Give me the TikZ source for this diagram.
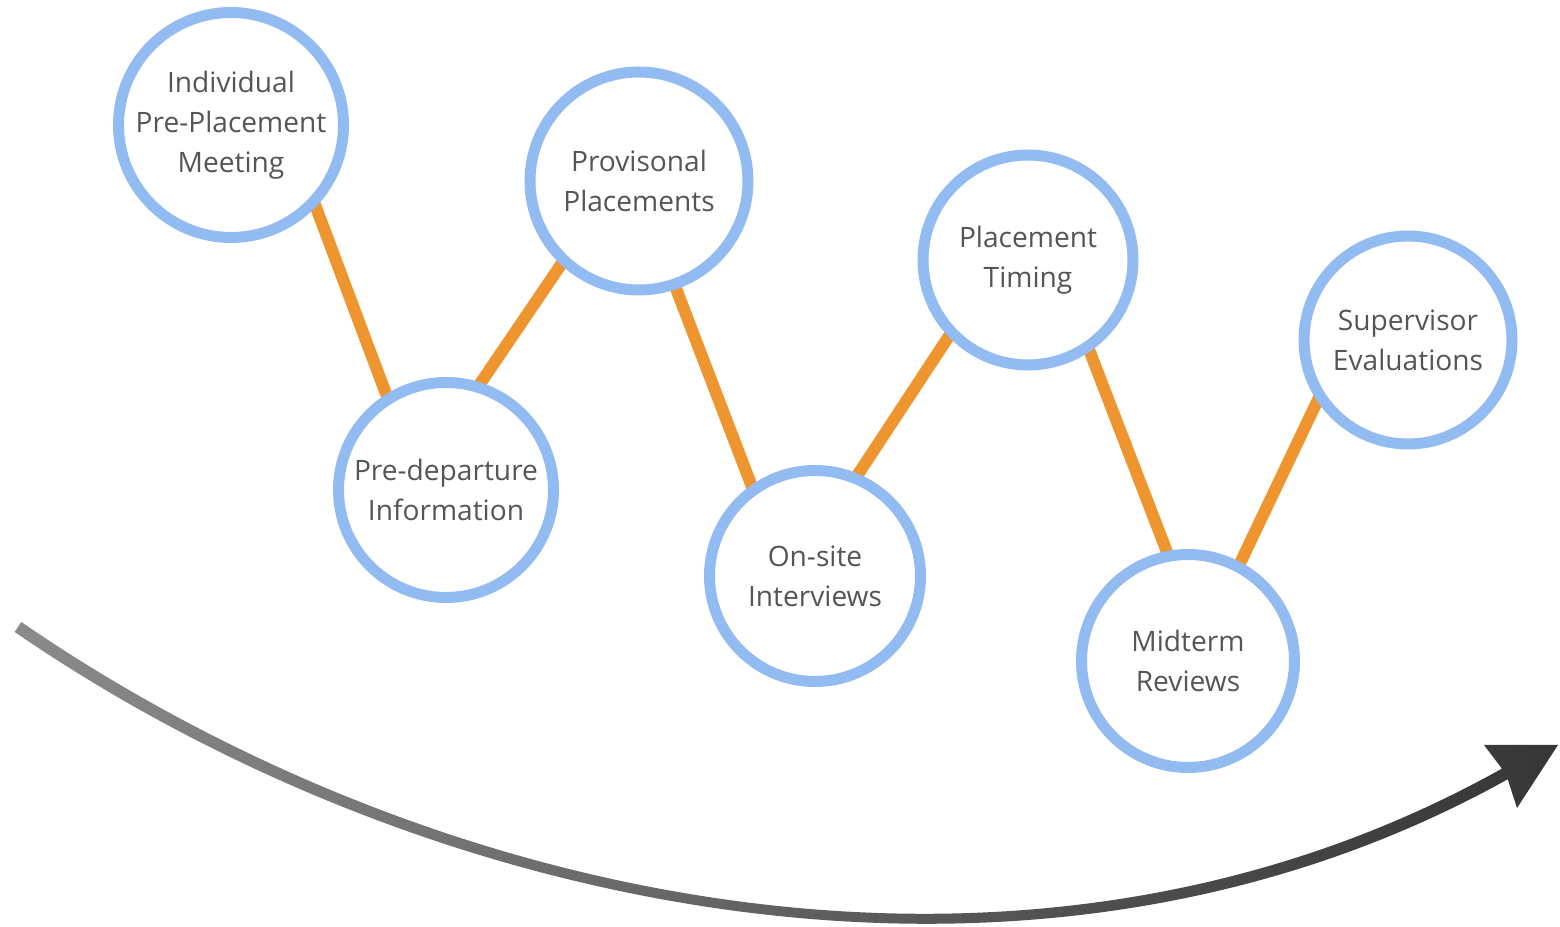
\documentclass[tikz,border=0pt]{standalone}
\usepackage{fontspec}
\setmainfont{Open Sans}
\usepackage{tikz}
\usepackage{xcolor}
\usetikzlibrary{calc,backgrounds}
\definecolor{ring}{HTML}{92BBF1}
\definecolor{link}{HTML}{EF9530}
\definecolor{label}{HTML}{555555}
\definecolor{shaftl}{HTML}{8A8A8A}
\definecolor{shaftd}{HTML}{363636}
\tikzset{
  stage/.style = {circle,draw=ring,line width=1.1mm,fill=white,text=label,
    align=center,inner sep=0pt,minimum size=#1,
    font=\fontsize{8}{11.4}\selectfont},
  conn/.style = {draw=link,line width=1.2mm,shorten <=-2mm,shorten >=-2mm}
}

\begin{document}
\begin{tikzpicture}[x=0.1mm,y=-0.1mm]
\useasboundingbox (0,0) rectangle (1560,927);

\node[stage=22.5mm] (meet) at (231,125) {Individual\\Pre-Placement\\Meeting};
\node[stage=21.5mm] (info) at (446,490) {Pre-departure\\Information};
\node[stage=21.8mm] (prov) at (639,181) {Provisonal\\Placements};
\node[stage=21.1mm] (site) at (815,576) {On-site\\Interviews};
\node[stage=21.0mm] (time) at (1028,260) {Placement\\Timing};
\node[stage=21.3mm] (mid) at (1188,661) {Midterm\\Reviews};
\node[stage=20.8mm] (eval) at (1408,340) {Supervisor\\Evaluations};

\begin{scope}[on background layer]
\draw[conn] (meet.-44.6) -- (info.122.3);
\draw[conn] (info.72.4) -- (prov.227.5);
\draw[conn] (prov.-71.7) -- (site.125.3);
\draw[conn] (site.67.3) -- (time.224);
\draw[conn] (time.-56.2) -- (mid.101.7);
\draw[conn] (mid.62.8) -- (eval.214.7);
\end{scope}

% time arrow
\shade[left color=shaftl,right color=shaftd]
  (14.7,632) .. controls (426.7,915) and (1033.3,1045) .. (1510,778)
  -- (1503,768) .. controls (1026.7,1035) and (433.3,905) .. (21.3,622) -- cycle
  (1484,745) -- (1506,774) -- (1517,808) -- (1558,745) -- cycle;
\end{tikzpicture}
\end{document}
